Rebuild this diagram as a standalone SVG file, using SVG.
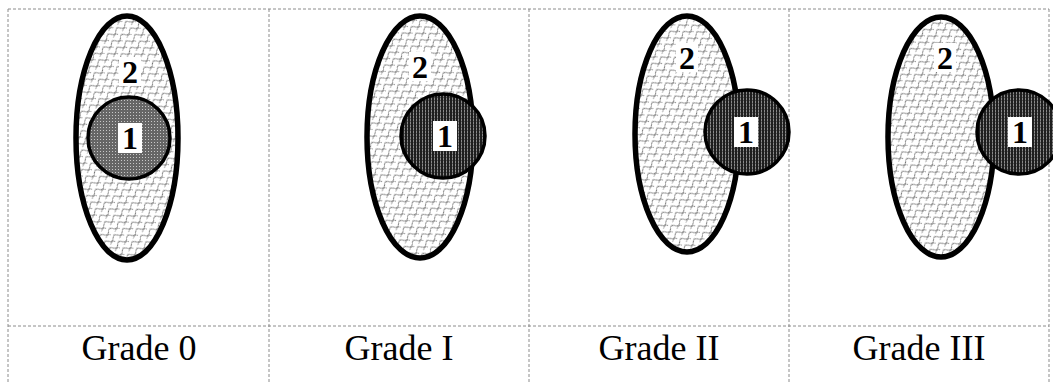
<svg xmlns="http://www.w3.org/2000/svg" width="1053" height="383" viewBox="0 0 1053 383">
  <style>
    .grid { stroke: #8c8c8c; stroke-width: 1; stroke-dasharray: 3 2; fill: none; }
    .outer { fill: url(#scales); stroke: #000; stroke-width: 5.5; }
    .core0 { fill: url(#dots); stroke: #000; stroke-width: 3.5; }
    .core { fill: url(#stripes); stroke: #000; stroke-width: 3.5; }
    .tag { fill: #fff; }
    .num { font-family: "Liberation Serif", "Times New Roman", serif; font-weight: bold; font-size: 32px; text-anchor: middle; fill: #000; }
    .grade { font-family: "Liberation Serif", "Times New Roman", serif; font-size: 36px; text-anchor: middle; fill: #000; }
  </style>
  <defs>
    <!-- fish-scale hatch for the outer zone -->
    <pattern id="scales" width="11" height="8" patternUnits="userSpaceOnUse" patternTransform="rotate(-35)">
      <rect width="11" height="8" fill="#fff"/>
      <path d="M0 4 q2.75 -4 5.5 0 t5.5 0" fill="none" stroke="#6e6e6e" stroke-width="1"/>
      <path d="M-5.5 8 q2.75 -4 5.5 0 t5.5 0 t5.5 0" fill="none" stroke="#8a8a8a" stroke-width="1"/>
    </pattern>
    <!-- dotted grey fill for the contained core -->
    <pattern id="dots" width="3" height="3" patternUnits="userSpaceOnUse">
      <rect width="3" height="3" fill="#666"/>
      <rect x="1" y="1" width="1" height="1" fill="#c8c8c8"/>
    </pattern>
    <!-- dark striped fill for the protruding core -->
    <pattern id="stripes" width="3" height="3" patternUnits="userSpaceOnUse">
      <rect width="3" height="3" fill="#1e1e1e"/>
      <rect x="2" width="1" height="3" fill="#8a8a8a"/>
      <rect x="2" y="1" width="1" height="1" fill="#555"/>
    </pattern>
  </defs>

  <!-- table rules -->
  <g id="table">
    <line class="grid" x1="8" y1="9" x2="1049" y2="9"/>
    <line class="grid" x1="8" y1="326" x2="1049" y2="326"/>
    <line class="grid" x1="8" y1="9" x2="8" y2="383"/>
    <line class="grid" x1="269" y1="9" x2="269" y2="383"/>
    <line class="grid" x1="529" y1="9" x2="529" y2="383"/>
    <line class="grid" x1="789" y1="9" x2="789" y2="383"/>
    <line class="grid" x1="1049" y1="9" x2="1049" y2="383"/>
  </g>

  <!-- Grade 0: core fully inside -->
  <g id="grade0">
    <ellipse class="outer" cx="127" cy="138" rx="51" ry="122"/>
    <circle class="core0" cx="129" cy="138" r="41"/>
    <rect class="tag" x="119" y="57" width="22" height="29"/>
    <text class="num" x="130" y="83">2</text>
    <rect class="tag" x="118" y="123" width="24" height="30"/>
    <text class="num" x="130" y="149">1</text>
  </g>

  <!-- Grade I -->
  <g id="grade1">
    <ellipse class="outer" cx="420" cy="137" rx="53" ry="121"/>
    <circle class="core" cx="443" cy="136" r="42"/>
    <rect class="tag" x="409" y="52" width="22" height="29"/>
    <text class="num" x="420" y="78">2</text>
    <rect class="tag" x="433" y="121" width="24" height="30"/>
    <text class="num" x="445" y="147">1</text>
  </g>

  <!-- Grade II -->
  <g id="grade2">
    <ellipse class="outer" cx="687" cy="134" rx="52" ry="118"/>
    <circle class="core" cx="747" cy="132" r="42"/>
    <rect class="tag" x="676" y="43" width="22" height="29"/>
    <text class="num" x="687" y="69">2</text>
    <rect class="tag" x="734" y="117" width="24" height="30"/>
    <text class="num" x="746" y="143">1</text>
  </g>

  <!-- Grade III -->
  <g id="grade3">
    <ellipse class="outer" cx="941" cy="137" rx="53" ry="120"/>
    <circle class="core" cx="1019" cy="132" r="42"/>
    <rect class="tag" x="934" y="43" width="22" height="29"/>
    <text class="num" x="945" y="69">2</text>
    <rect class="tag" x="1008" y="117" width="24" height="30"/>
    <text class="num" x="1020" y="143">1</text>
  </g>

  <!-- grade captions -->
  <g id="captions">
    <text class="grade" x="139" y="360">Grade 0</text>
    <text class="grade" x="399" y="360">Grade I</text>
    <text class="grade" x="659" y="360">Grade II</text>
    <text class="grade" x="919" y="360">Grade III</text>
  </g>
</svg>
